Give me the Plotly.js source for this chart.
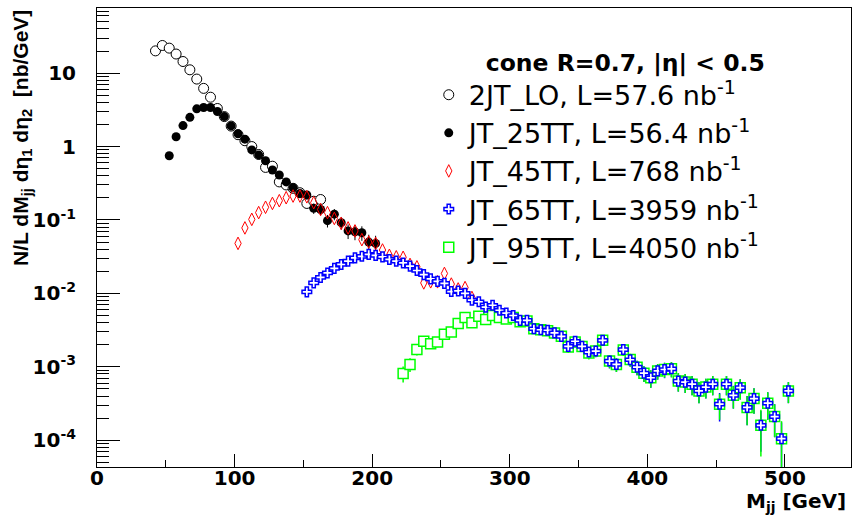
<!DOCTYPE html>
<html><head><meta charset="utf-8">
<script src="https://cdn.plot.ly/plotly-3.0.1.min.js"></script>
<style>body{margin:0;background:#fff}#chart{width:854px;height:516px}</style>
</head><body><div id="chart"></div>
<script>
// ---- data ----
const massLO = [42.5,47.5,52.5,57.5,62.5,67.5,72.5,77.5,82.5,87.5,92.5,97.5,102.5,107.5,112.5,117.5,122.5,127.5,132.5,137.5,142.5,147.5,152.5,157.5,162.5];
const valLO  = [20.1,23.8,21.9,18.2,14.4,11.1,8.3,6.2,4.7,3.3,2.56,1.9,1.45,1.2,1.0,0.78,0.52,0.54,0.33,0.30,0.27,0.235,0.168,0.18,0.19];
const errLO  = [0.27,0.29,0.28,0.25,0.22,0.19,0.17,0.15,0.13,0.11,0.094,0.081,0.071,0.065,0.059,0.052,0.042,0.043,0.034,0.032,0.031,0.029,0.024,0.025,0.026];

const mass25 = [52.5,57.5,62.5,67.5,72.5,77.5,82.5,87.5,92.5,97.5,102.5,107.5,112.5,117.5,122.5,127.5,132.5,137.5,142.5,147.5,152.5,157.5,162.5,167.5,172.5,177.5,182.5,187.5,192.5,197.5,202.5];
const val25  = [0.75,1.36,1.93,2.5,3.26,3.4,3.4,3.0,2.56,1.91,1.49,1.26,0.90,0.77,0.64,0.48,0.41,0.33,0.275,0.23,0.219,0.144,0.139,0.098,0.12,0.092,0.071,0.069,0.067,0.050,0.048];
const err25  = [0.05,0.07,0.08,0.09,0.11,0.11,0.11,0.10,0.095,0.082,0.073,0.067,0.056,0.052,0.048,0.041,0.038,0.034,0.031,0.029,0.028,0.023,0.022,0.019,0.021,0.018,0.016,0.016,0.015,0.013,0.013];

const mass45 = [102.5,107.5,112.5,117.5,122.5,127.5,132.5,137.5,142.5,147.5,152.5,157.5,162.5,167.5,172.5,177.5,182.5,187.5,192.5,197.5,202.5,207.5,212.5,217.5,222.5,227.5,232.5,237.5,242.5,247.5,252.5,257.5,262.5,267.5,272.5];
const val45  = [0.048,0.078,0.102,0.126,0.149,0.168,0.183,0.201,0.212,0.212,0.207,0.172,0.139,0.126,0.105,0.090,0.078,0.071,0.054,0.050,0.048,0.039,0.033,0.0315,0.031,0.0248,0.023,0.0139,0.0144,0.0144,0.0187,0.0134,0.0115,0.012,0.0088];

const mass65 = [152.5,157.5,162.5,167.5,172.5,177.5,182.5,187.5,192.5,197.5,202.5,207.5,212.5,217.5,222.5,227.5,232.5,237.5,242.5,247.5,252.5,257.5,262.5,267.5,272.5,277.5,282.5,287.5,292.5,297.5,302.5,307.5,312.5,317.5,322.5,327.5,332.5,337.5,342.5,347.5,352.5,357.5,362.5,367.5,372.5,377.5,382.5,387.5,392.5,397.5,402.5,407.5,412.5,417.5,422.5,427.5,432.5,437.5,442.5,447.5,452.5,457.5,462.5,467.5,472.5,477.5,482.5,487.5,492.5,497.5,502.5];
const val65  = [0.0105,0.0139,0.0165,0.019,0.0219,0.0248,0.0275,0.0305,0.032,0.034,
                0.033,0.0315,0.029,0.0275,0.026,0.0235,0.0205,0.018,0.0158,0.0146,
                0.0137,0.0106,0.0108,0.0100,0.0081,0.0077,0.0065,0.0069,0.0059,0.0054,
                0.0050,0.0043,0.0043,0.0033,0.0032,0.00315,0.0029,0.0026,0.0019,0.00223,
                0.0019,0.00159,0.00164,0.0023,0.0012,0.00108,0.00172,0.00125,0.00099,0.00082,
                0.00071,0.00088,0.00092,0.00094,0.00064,0.00062,0.00058,0.00047,0.00053,0.00058,
                0.00031,0.00058,0.00041,0.00052,0.00028,0.00037,0.00016,0.00032,0.00021,0.000105,0.00047];
const err65  = [0.0007,0.0008,0.0009,0.001,0.001,0.0011,0.0012,0.0012,0.0013,0.0013,
                0.0013,0.0013,0.0012,0.0012,0.0011,0.0011,0.001,0.00095,0.0009,0.00086,
                0.00083,0.00073,0.00074,0.00071,0.00064,0.00062,0.00057,0.00059,0.00055,0.00052,
                0.0005,0.00047,0.00047,0.00041,0.0004,0.0004,0.00038,0.00036,0.00031,0.00034,
                0.00031,0.00028,0.00029,0.00034,0.00025,0.00023,0.00029,0.00025,0.00022,0.0002,
                0.00019,0.00021,0.00022,0.00022,0.00018,0.00018,0.00017,0.00015,0.00016,0.00017,
                0.00013,0.00017,0.00014,0.00016,0.00012,0.00014,0.00009,0.00013,0.0001,0.00007,0.00015];

const mass95 = [222.5,227.5,232.5,237.5,242.5,247.5,252.5,257.5,262.5,267.5,272.5,277.5,282.5,287.5,292.5,297.5,302.5,307.5,312.5,317.5,322.5,327.5,332.5,337.5,342.5,347.5,352.5,357.5,362.5,367.5,372.5,377.5,382.5,387.5,392.5,397.5,402.5,407.5,412.5,417.5,422.5,427.5,432.5,437.5,442.5,447.5,452.5,457.5,462.5,467.5,472.5,477.5,482.5,487.5,492.5,497.5,502.5];
const val95  = [0.00081,0.00108,0.00172,0.00223,0.00207,0.00218,0.00277,0.00298,0.0039,0.0047,
                0.0040,0.0049,0.0044,0.0050,0.0047,0.0045,0.0047,0.0041,0.0042,0.0033,
                0.0032,0.0031,0.0029,0.0026,0.00186,0.00218,0.0019,0.00154,0.00164,0.0023,
                0.0012,0.00108,0.0017,0.00126,0.00099,0.00082,0.00071,0.00088,0.00092,0.00094,
                0.00064,0.00062,0.00058,0.00047,0.00053,0.00058,0.00031,0.00058,0.00041,0.00052,
                0.00028,0.00037,0.00016,0.00032,0.00021,0.000105,0.00047];
const err95  = [0.0002,0.00023,0.00029,0.00033,0.00032,0.00033,0.00037,0.00038,0.00044,0.00048,
                0.00044,0.00049,0.00047,0.0005,0.00048,0.00047,0.00048,0.00045,0.00046,0.0004,
                0.0004,0.00039,0.00038,0.00036,0.0003,0.00033,0.00031,0.00028,0.00028,0.00034,
                0.00024,0.00023,0.00029,0.00025,0.00022,0.0002,0.00019,0.00021,0.00021,0.00022,
                0.00018,0.00018,0.00017,0.00015,0.00016,0.00017,0.00012,0.00017,0.00014,0.00016,
                0.00012,0.00014,0.0001,0.00013,0.0001,0.000077,0.00015];

const seriesNames = ['2JT_LO, L=57.6 nb<sup>-1</sup>','JT_25TT, L=56.4 nb<sup>-1</sup>','JT_45TT, L=768 nb<sup>-1</sup>','JT_65TT, L=3959 nb<sup>-1</sup>','JT_95TT, L=4050 nb<sup>-1</sup>'];
const yTickVals = [1e-4,1e-3,1e-2,1e-1,1,10];
const yTickText = ['10<sup>-4</sup>','10<sup>-3</sup>','10<sup>-2</sup>','10<sup>-1</sup>','1','10'];
const legendTitle = '<b>cone R=0.7, |η| &lt; 0.5</b>';
const xTitle = '<b>M<sub>jj</sub> [GeV]</b>';
const yTitle = '<b>N/L dM<sub>jj</sub> dη<sub>1</sub> dη<sub>2</sub>  [nb/GeV]</b>';

// ---- traces ----
const eb = (arr, color, th) => ({type:'data', array:arr, visible:true, color:color, thickness:th, width:0});
const traces = [
  {x:massLO, y:valLO, error_y:eb(errLO,'black',1), name:seriesNames[0], legendrank:1, type:'scatter', mode:'markers',
   marker:{symbol:'circle', size:10, color:'white', line:{color:'black', width:1}}},
  {x:mass25, y:val25, error_y:eb(err25,'black',1), name:seriesNames[1], legendrank:2, type:'scatter', mode:'markers',
   marker:{symbol:'circle', size:9, color:'black', line:{color:'black', width:0}}},
  {x:mass45, y:val45, name:seriesNames[2], legendrank:3, type:'scatter', mode:'markers',
   marker:{symbol:'diamond-tall-open', size:9, color:'red', line:{color:'red', width:1}}},
  // JT_65TT error bars (drawn underneath the JT_95TT points)
  {x:mass65, y:val65, error_y:eb(err65,'blue',1.5), showlegend:false, hoverinfo:'skip', type:'scatter', mode:'markers',
   marker:{symbol:'cross', size:8, opacity:0, color:'blue'}},
  {x:mass95, y:val95, error_y:eb(err95,'#00ff00',1.5), name:seriesNames[4], legendrank:5, type:'scatter', mode:'markers',
   marker:{symbol:'square', size:10, color:'white', line:{color:'#00ff00', width:1.5}}},
  {x:mass65, y:val65, name:seriesNames[3], legendrank:4, type:'scatter', mode:'markers',
   marker:{symbol:'cross', size:8, color:'white', line:{color:'blue', width:1.5}}}
];

const tickFont = {family:'DejaVu Sans', size:20, color:'black', weight:'bold'};
const layout = {
  width:854, height:516,
  margin:{l:97, r:3, t:8, b:49},
  paper_bgcolor:'white', plot_bgcolor:'white',
  showlegend:true,
  xaxis:{range:[0,548], showgrid:false, zeroline:false, showline:true, mirror:true, linecolor:'black', linewidth:1,
         ticks:'inside', ticklen:13, tickwidth:1, tickcolor:'black', dtick:100, tick0:0,
         minor:{dtick:50, ticks:'inside', ticklen:7, tickwidth:1, tickcolor:'black'},
         tickfont:tickFont, ticklabelstandoff:-7},
  yaxis:{type:'log', range:[-4.364,1.887], showgrid:false, zeroline:false, showline:true, mirror:true, linecolor:'black', linewidth:1,
         ticks:'inside', ticklen:23, tickwidth:1, tickcolor:'black', tickmode:'array', tickvals:yTickVals, ticktext:yTickText,
         minor:{dtick:'D1', ticks:'inside', ticklen:12, tickwidth:1, tickcolor:'black'},
         tickfont:tickFont, ticklabelstandoff:16},
  legend:{x:0.44, y:0.93, xanchor:'left', yanchor:'top', bgcolor:'rgba(0,0,0,0)', borderwidth:0,
          font:{family:'DejaVu Sans', size:27, color:'black'}, itemwidth:30,
          title:{text:legendTitle, side:'top right', font:{family:'DejaVu Sans', size:23.5, color:'black'}}},
  annotations:[
    {text:xTitle, xref:'paper', yref:'paper', x:1, y:-0.077, xanchor:'right', yanchor:'middle', xshift:-3, showarrow:false,
     font:{family:'DejaVu Sans', size:20, color:'black'}},
    {text:yTitle, xref:'paper', yref:'paper', x:-0.0995, y:1, xanchor:'center', yanchor:'top', textangle:-90, showarrow:false,
     font:{family:'Liberation Sans', size:21, color:'black'}}
  ]
};
Plotly.newPlot('chart', traces, layout, {displayModeBar:false, staticPlot:true});
</script>
</body></html>
